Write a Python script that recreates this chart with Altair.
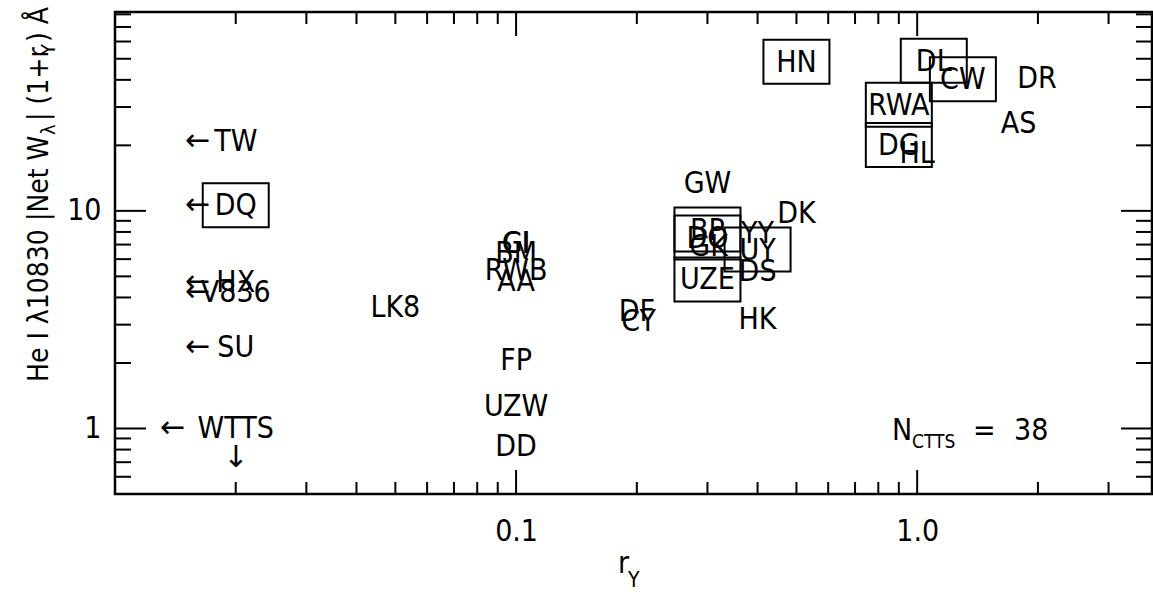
import altair as alt
import pandas as pd

# ---- data -------------------------------------------------------------
stars = ["TW", "DQ", "HX", "V836", "SU",
         "LK8", "CI", "GI", "BM", "RWB", "AA", "FP", "UZW", "DD",
         "DF", "CY", "GW", "BP", "DO", "GK", "UZE", "YY", "UY", "DS", "DK", "HK",
         "HN", "DL", "CW", "RWA", "DG", "HL", "DR", "AS"]
r_y = [0.02, 0.02, 0.02, 0.02, 0.02,
       0.05, 0.10, 0.10, 0.10, 0.10, 0.10, 0.10, 0.10, 0.10,
       0.20, 0.202, 0.30, 0.30, 0.30, 0.302, 0.30, 0.40, 0.40, 0.40, 0.50, 0.40,
       0.50, 1.10, 1.30, 0.90, 0.90, 1.00, 1.99, 1.79]
he_i = [21.0, 10.6, 4.7, 4.26, 2.36,
        3.62, 7.15, 7.15, 6.37, 5.33, 4.74, 2.06, 1.27, 0.83,
        3.45, 3.11, 13.5, 8.2, 7.54, 6.9, 4.84, 7.95, 6.64, 5.27, 9.82, 3.17,
        48.4, 48.9, 40.2, 30.7, 20.1, 18.4, 40.9, 25.4]
boxed = [False, True, False, False, False,
         False, False, False, False, False, False, False, False, False,
         False, False, False, True, True, False, True, False, True, False, False, False,
         True, True, True, True, True, False, False, False]
upper_limit = [True, True, True, True, True] + [False] * 29

wtts_r_y = [0.02]
wtts_he_i = [1.0]

x_major = [0.1, 1.0]
x_minor = [0.02, 0.03, 0.04, 0.05, 0.06, 0.07, 0.08, 0.09,
           0.2, 0.3, 0.4, 0.5, 0.6, 0.7, 0.8, 0.9, 2.0, 3.0]
y_major = [1, 10]
y_minor = [0.6, 0.7, 0.8, 0.9, 2, 3, 4, 5, 6, 7, 8, 9,
           20, 30, 40, 50, 60, 70, 80]

n_ctts = 38

# ---- layout -----------------------------------------------------------
W, H = 1037, 482
FONT = "DejaVu Sans Condensed, DejaVu Sans, sans-serif"
FS = 30
xs = alt.Scale(type="log", domain=[0.01, 3.85], nice=False, zero=False)
ys = alt.Scale(type="log", domain=[0.5, 82], nice=False, zero=False)

x_axis = alt.Axis(values=x_major, format=".1f", labelFont=FONT, labelFontSize=FS,
                  labelColor="black", ticks=False, tickSize=0, domain=False,
                  grid=False, labelPadding=22, title=None, labelFlush=False)
y_axis = alt.Axis(values=y_major, format="~g", labelFont=FONT, labelFontSize=FS,
                  labelColor="black", ticks=False, tickSize=0, domain=False,
                  grid=False, labelPadding=14, title=None)

X = alt.X("r_y:Q", scale=xs, axis=x_axis)
Y = alt.Y("he:Q", scale=ys, axis=y_axis)

df = pd.DataFrame({"star": stars, "r_y": r_y, "he": he_i,
                   "boxed": boxed, "limit": upper_limit})

labels = alt.Chart(df).mark_text(font=FONT, fontSize=FS, baseline="middle",
                                 align="center", dy=1, color="black").encode(
    x=X, y=Y, text="star:N")

BOX = "M-1,-0.6667L1,-0.6667L1,0.6667L-1,0.6667Z"
boxes = alt.Chart(df).transform_filter("datum.boxed").mark_point(
    shape=BOX, size=66 * 66, filled=False, stroke="black", strokeWidth=2,
    opacity=1).encode(x=X, y=Y)

arrows = alt.Chart(df).transform_filter("datum.limit").mark_text(
    font="DejaVu Sans", fontSize=30, baseline="middle", align="center",
    dx=-38, dy=0, color="black", text="←").encode(x=X, y=Y)

wdf = pd.DataFrame({"r_y": wtts_r_y, "he": wtts_he_i, "t": ["WTTS"]})
wtts = alt.Chart(wdf).mark_text(font=FONT, fontSize=FS, baseline="middle",
                                align="center", dy=1, color="black").encode(
    x=X, y=Y, text="t:N")
wtts_left = alt.Chart(wdf).mark_text(font="DejaVu Sans", fontSize=30,
                                     baseline="middle", align="center",
                                     dx=-63, dy=0, text="←", color="black").encode(x=X, y=Y)
wtts_down = alt.Chart(wdf).mark_text(font="DejaVu Sans", fontSize=30,
                                     baseline="middle", align="center",
                                     dx=0, dy=30, text="↓", color="black").encode(x=X, y=Y)


def tick_rules(values, length, side):
    d = pd.DataFrame({"v": values})
    base = alt.Chart(d).mark_rule(color="black", strokeWidth=2)
    if side == "bottom":
        return base.encode(x=alt.X("v:Q", scale=xs, axis=x_axis),
                           y=alt.value(H), y2=alt.value(H - length))
    if side == "top":
        return base.encode(x=alt.X("v:Q", scale=xs, axis=x_axis),
                           y=alt.value(0), y2=alt.value(length))
    if side == "left":
        return base.encode(y=alt.Y("v:Q", scale=ys, axis=y_axis),
                           x=alt.value(0), x2=alt.value(length))
    return base.encode(y=alt.Y("v:Q", scale=ys, axis=y_axis),
                       x=alt.value(W), x2=alt.value(W - length))


ticks = [
    tick_rules(x_major, 24, "bottom"), tick_rules(x_minor, 12, "bottom"),
    tick_rules(x_major, 24, "top"), tick_rules(x_minor, 12, "top"),
    tick_rules(y_major, 31, "left"), tick_rules(y_minor, 16, "left"),
    tick_rules(y_major, 31, "right"), tick_rules(y_minor, 16, "right"),
]


def note(text, x, y, size=FS, angle=0, align="left"):
    return alt.Chart(pd.DataFrame({"t": [text]})).mark_text(
        font=FONT, fontSize=size, align=align, baseline="alphabetic",
        angle=angle, color="black").encode(
        x=alt.value(x), y=alt.value(y), text="t:N")


# N_CTTS annotation
count_note = [
    note("N", 777, 428),
    note("CTTS", 797, 436, size=19),
    note("=", 858, 428),
    note(str(n_ctts), 899, 428),
]

# axis titles with subscripts
x_title = [note("r", 503, 561), note("Y", 513, 575, size=21)]
y_title = [
    note("He I λ10830 |Net W", -67, 370, size=28, angle=270),
    note("λ", -60, 123, size=20, angle=270),
    note("| (1+r", -67, 109, size=28, angle=270),
    note("Y", -60, 43, size=20, angle=270),
    note(") Å", -67, 30, size=28, angle=270),
]

chart = alt.layer(labels, boxes, arrows, wtts, wtts_left, wtts_down,
                  *ticks, *count_note, *x_title, *y_title).properties(
    width=W, height=H,
    autosize=alt.AutoSizeParams(type="none"),
    padding={"left": 115, "top": 12, "right": 1, "bottom": 98},
    background="white",
).configure_view(stroke="black", strokeWidth=2.5)

chart.save("out.html", embed_options={"renderer": "svg", "actions": False})
